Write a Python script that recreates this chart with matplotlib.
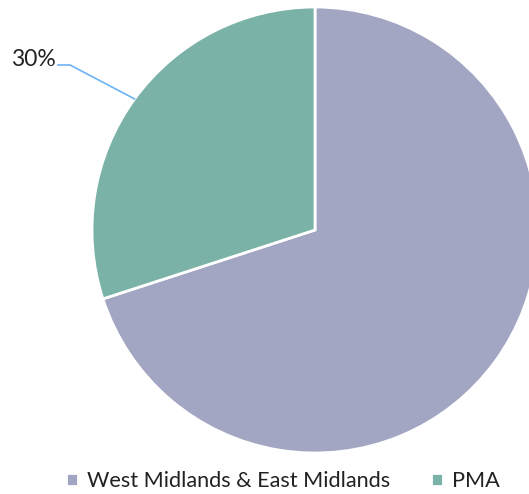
import matplotlib.pyplot as plt
import numpy as np

labels = ["West Midlands & East Midlands", "PMA"]
shares = [70, 30]
colors = ["#A2A6C2", "#7AB2A7"]
shown_label = "PMA"

plt.rcParams['font.family'] = ['Lato', 'DejaVu Sans']

W, H = 529, 494
fig = plt.figure(figsize=(W / 100, H / 100), dpi=100)
ax = fig.add_axes([0, 0, 1, 1])

# pixel geometry of the pie in the picture
cx, cy, r = 315, 230, 223
wedges, _ = ax.pie(shares, colors=colors, startangle=90, counterclock=False,
                   radius=1, wedgeprops=dict(edgecolor="white", linewidth=2))
ax.set_xlim(-cx / r, (W - cx) / r)
ax.set_ylim(-(H - cy) / r, cy / r)
ax.set_aspect("auto")
ax.axis("off")

# leader label for PMA slice
i = labels.index(shown_label)
w = wedges[i]
mid = np.deg2rad((w.theta1 + w.theta2) / 2)
p0 = (np.cos(mid), np.sin(mid))
elbow = ((70 - cx) / r, (cy - 65) / r)
end = ((58 - cx) / r, (cy - 65) / r)
ax.plot([p0[0], elbow[0], end[0]], [p0[1], elbow[1], end[1]],
        color="#6CB4F5", lw=1.2, clip_on=False)
ax.text(end[0] - 2 / r, end[1] + 5 / r, f"{shares[i]}%", ha="right", va="center",
        fontsize=16.5, color="#222222")

ax.legend(wedges, labels, loc="center", bbox_to_anchor=(0.535, 1 - 481 / H),
          bbox_transform=fig.transFigure, ncol=2, frameon=False, fontsize=15.6,
          handlelength=0.55, handleheight=0.55, handletextpad=0.4,
          columnspacing=1.9, labelcolor="#222222")

fig.savefig("out.png", dpi=100)
